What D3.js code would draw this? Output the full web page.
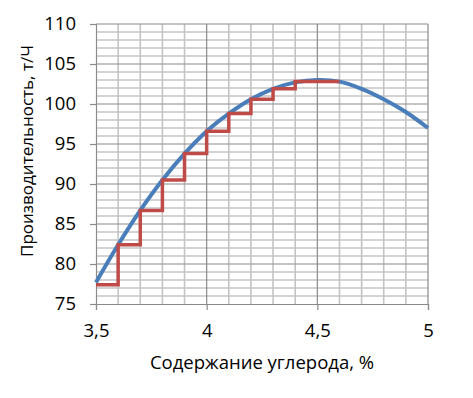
<!DOCTYPE html>
<html>
<head>
<meta charset="utf-8">
<script src="https://cdn.jsdelivr.net/npm/d3@7"></script>
<style>
body { margin: 0; background: #fff; }
text { font-family: "Open Sans", "Liberation Sans", sans-serif; fill: #000; }
</style>
</head>
<body>
<svg width="473" height="398"></svg>
<script>
// curve: productivity vs carbon content
var curveX = [3.5, 3.6, 3.7, 3.8, 3.9, 4.0, 4.1, 4.2, 4.3, 4.4, 4.5, 4.6, 4.7, 4.8, 4.9, 5.0];
var curveY = [77.7, 82.4, 86.7, 90.5, 93.8, 96.6, 98.8, 100.6, 101.9, 102.7, 103.0, 102.8, 101.9, 100.6, 99.0, 97.0];

// step line
var stepX = [3.5, 3.6, 3.7, 3.8, 3.9, 4.0, 4.1, 4.2, 4.3, 4.4, 4.6];
var stepY = [77.4, 82.4, 86.7, 90.5, 93.8, 96.6, 98.8, 100.6, 101.9, 102.8, 102.8];

var xTicks = [3.5, 4, 4.5, 5];
var yTicks = [75, 80, 85, 90, 95, 100, 105, 110];

var svg = d3.select("svg");
var pLeft = 96, pRight = 428, pTop = 24, pBottom = 304;

var x = d3.scaleLinear().domain([3.5, 5]).range([pLeft, pRight]);
var y = d3.scaleLinear().domain([75, 110]).range([pBottom, pTop]);

var fmt = function(d) { return String(d).replace(".", ","); };

var g = svg.append("g");

// minor grid
g.selectAll(".vminor")
  .data(d3.range(36, 50).map(function(d) { return d / 10; }).filter(function(d) { return Math.round(d * 10) % 5 != 0; }))
  .enter().append("line")
  .attr("x1", function(d) { return x(d); }).attr("x2", function(d) { return x(d); })
  .attr("y1", pTop).attr("y2", pBottom)
  .style("stroke", "#c4c4c4").style("stroke-width", 1.6);

g.selectAll(".hminor")
  .data(d3.range(76, 110).filter(function(d) { return d % 5 != 0; }))
  .enter().append("line")
  .attr("x1", pLeft).attr("x2", pRight)
  .attr("y1", function(d) { return y(d); }).attr("y2", function(d) { return y(d); })
  .style("stroke", "#c4c4c4").style("stroke-width", 1.6);

// major grid
g.selectAll(".vmajor")
  .data(xTicks.slice(1))
  .enter().append("line")
  .attr("x1", function(d) { return x(d); }).attr("x2", function(d) { return x(d); })
  .attr("y1", pTop).attr("y2", pBottom)
  .style("stroke", "#8a8a8a").style("stroke-width", 1.2);

g.selectAll(".hmajor")
  .data(yTicks.slice(1))
  .enter().append("line")
  .attr("x1", pLeft).attr("x2", pRight)
  .attr("y1", function(d) { return y(d); }).attr("y2", function(d) { return y(d); })
  .style("stroke", "#8a8a8a").style("stroke-width", 1.2);

// axes
var xAxis = svg.append("g")
  .attr("transform", "translate(0," + pBottom + ")")
  .call(d3.axisBottom(x).tickValues(xTicks).tickFormat(fmt).tickSize(6).tickPadding(14));
var yAxis = svg.append("g")
  .attr("transform", "translate(" + pLeft + ",0)")
  .call(d3.axisLeft(y).tickValues(yTicks).tickSize(6).tickPadding(14));

[xAxis, yAxis].forEach(function(a) {
  a.select(".domain").style("stroke", "#8a8a8a").style("stroke-width", 1.2);
  a.selectAll(".tick line").style("stroke", "#8a8a8a").style("stroke-width", 1.2);
  a.selectAll("text").style("font-size", "18.5px").style("font-family", "'Open Sans', sans-serif").attr("fill", "#000");
});

// series
var curveData = curveX.map(function(d, i) { return [d, curveY[i]]; });
var stepData = stepX.map(function(d, i) { return [d, stepY[i]]; });

svg.append("path")
  .datum(curveData)
  .attr("d", d3.line().x(function(d) { return x(d[0]); }).y(function(d) { return y(d[1]); }).curve(d3.curveCatmullRom))
  .style("fill", "none").style("stroke", "#4a7ebb").style("stroke-width", 4);

svg.append("path")
  .datum(stepData)
  .attr("d", d3.line().x(function(d) { return x(d[0]); }).y(function(d) { return y(d[1]); }).curve(d3.curveStepAfter))
  .style("fill", "none").style("stroke", "#be4b48").style("stroke-width", 3.5);

// titles
svg.append("text")
  .attr("x", (pLeft + pRight) / 2).attr("y", 369)
  .attr("text-anchor", "middle")
  .style("font-size", "18.5px")
  .text("Содержание углерода, %");

svg.append("text")
  .attr("transform", "translate(33,151) rotate(-90)")
  .attr("text-anchor", "middle")
  .style("font-size", "17px")
  .text("Производительность, т/Ч");
</script>
</body>
</html>
